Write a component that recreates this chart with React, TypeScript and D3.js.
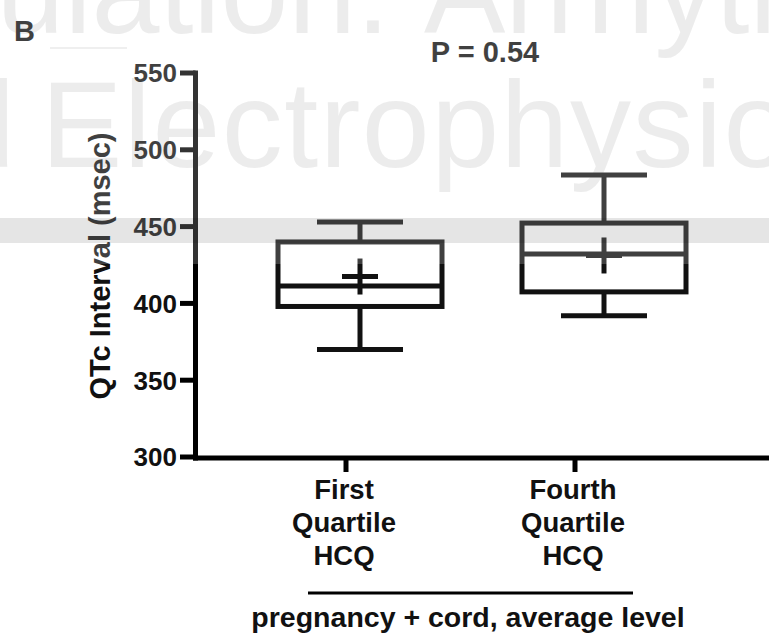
import React from "react";
import * as d3 from "d3";

const categories = ["First Quartile HCQ", "Fourth Quartile HCQ"];
const labelLines = [
  ["First", "Quartile", "HCQ"],
  ["Fourth", "Quartile", "HCQ"],
];
const whiskerLow = [370, 392];
const q1 = [398, 407.5];
const median = [411.3, 432.2];
const q3 = [440, 452.3];
const whiskerHigh = [453, 483.6];
const mean = [417.5, 431.2];
const yTicks = [300, 350, 400, 450, 500, 550];

const W = 769;
const H = 641;
const FONT = "'Liberation Sans', Arial, Helvetica, sans-serif";

export default function App() {
  const y = d3.scaleLinear().domain([300, 550]).range([457, 73]);
  const boxX = d3.scalePoint<string>().domain(categories).range([360, 604]);
  const tickX = d3.scalePoint<string>().domain(categories).range([346, 575]);
  const axisX = 195.5;
  const axisY = y(300) + 1;
  const boxW = 164;
  const capW = 86;
  const crossW = 36;
  const crossH = 36;
  const sw = 5;

  return (
    <svg
      width={W}
      height={H}
      style={{ position: "absolute", left: 0, top: 0, background: "#fff" }}
      fontFamily={FONT}
    >
      <rect x={0} y={0} width={W} height={H} fill="#fff" />
      {/* watermark */}
      <g fill="#e8e8e8" fontFamily={FONT} fontSize={122}>
        <text x={390} y={33} textAnchor="end">Circulation:</text>
        <text x={424} y={33}>Arrhythmia</text>
        <text x={15} y={167} textAnchor="end">and</text>
        <text x={41} y={167} letterSpacing={1.5}>Electrophysiology</text>
      </g>
      <line x1={50} x2={127} y1={48} y2={48} stroke="#ececec" strokeWidth={2} />

      {/* panel label */}
      <text x={14} y={41} fontSize={29} fontWeight="bold" fill="#111">B</text>
      {/* p value */}
      <text x={485} y={62} fontSize={29} fontWeight="bold" textAnchor="middle" fill="#111">
        P = 0.54
      </text>

      {/* y axis */}
      <line x1={axisX} x2={axisX} y1={y(550) - 2.5} y2={axisY + 2.5} stroke="#000" strokeWidth={sw} />
      {yTicks.map((t) => (
        <g key={t}>
          <line x1={180} x2={axisX} y1={y(t)} y2={y(t)} stroke="#000" strokeWidth={sw} />
          <text
            x={177}
            y={y(t)}
            dy="0.36em"
            textAnchor="end"
            fontSize={26}
            fontWeight="bold"
            fill="#111"
          >
            {t}
          </text>
        </g>
      ))}
      <text
        transform={`translate(110, 266) rotate(-90)`}
        textAnchor="middle"
        fontSize={29}
        fontWeight="bold"
        fill="#111"
      >
        QTc Interval (msec)
      </text>

      {/* x axis */}
      <line x1={axisX - 2.5} x2={W} y1={axisY} y2={axisY} stroke="#000" strokeWidth={sw} />
      {categories.map((c, i) => (
        <g key={c}>
          <line x1={tickX(c)} x2={tickX(c)} y1={axisY} y2={472} stroke="#000" strokeWidth={sw} />
          {labelLines[i].map((ln, j) => (
            <text
              key={j}
              x={(tickX(c) as number) - 2}
              y={499 + j * 33}
              textAnchor="middle"
              fontSize={27.5}
              fontWeight="bold"
              fill="#111"
            >
              {ln}
            </text>
          ))}
        </g>
      ))}
      <line x1={308} x2={633} y1={593} y2={593} stroke="#000" strokeWidth={3} />
      <text x={468} y={627} textAnchor="middle" fontSize={28.5} fontWeight="bold" fill="#111">
        pregnancy + cord, average level
      </text>

      {/* boxes */}
      {categories.map((c, i) => {
        const cx = boxX(c) as number;
        return (
          <g key={c} stroke="#111" strokeWidth={sw} fill="none">
            <line x1={cx} x2={cx} y1={y(whiskerHigh[i])} y2={y(q3[i])} />
            <line x1={cx} x2={cx} y1={y(q1[i])} y2={y(whiskerLow[i])} />
            <line x1={cx - capW / 2} x2={cx + capW / 2} y1={y(whiskerHigh[i])} y2={y(whiskerHigh[i])} />
            <line x1={cx - capW / 2} x2={cx + capW / 2} y1={y(whiskerLow[i])} y2={y(whiskerLow[i])} />
            <rect x={cx - boxW / 2} y={y(q3[i])} width={boxW} height={y(q1[i]) - y(q3[i])} />
            <line x1={cx - boxW / 2} x2={cx + boxW / 2} y1={y(median[i])} y2={y(median[i])} />
            <line x1={cx - crossW / 2} x2={cx + crossW / 2} y1={y(mean[i])} y2={y(mean[i])} />
            <line x1={cx} x2={cx} y1={y(mean[i]) - crossH / 2} y2={y(mean[i]) + crossH / 2} />
          </g>
        );
      })}

      {/* page overlay */}
      <rect x={0} y={0} width={W} height={264} fill="#fff" opacity={0.2} />
      <rect x={0} y={218} width={W} height={25} fill="#000" opacity={0.1} />
    </svg>
  );
}
